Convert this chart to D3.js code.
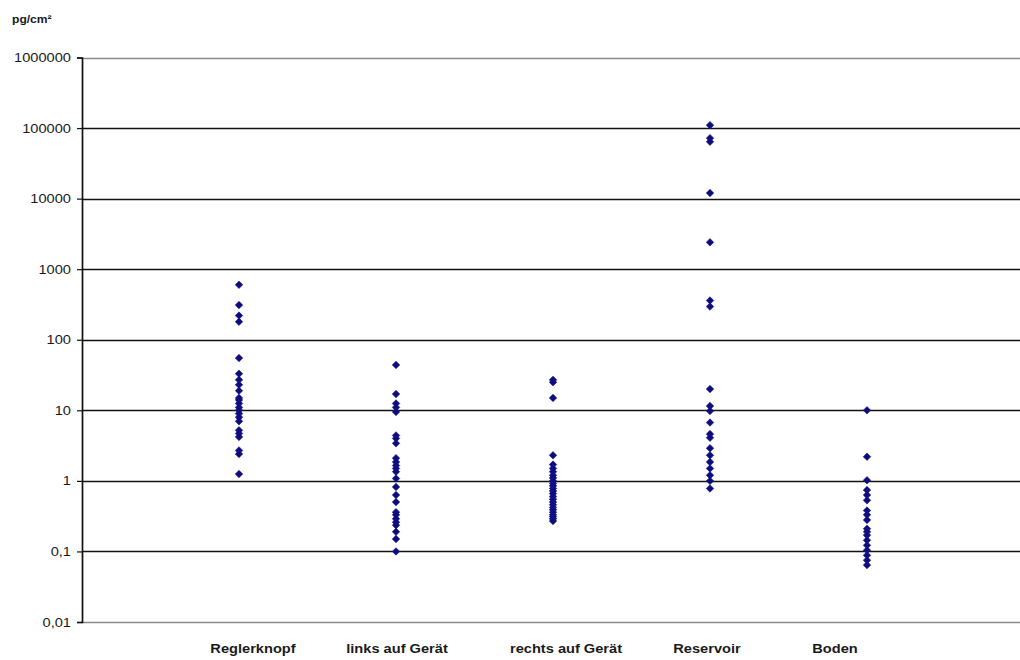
<!DOCTYPE html>
<html>
<head>
<meta charset="utf-8">
<script src="https://cdn.jsdelivr.net/npm/d3@7"></script>
<style>
  html, body { margin: 0; padding: 0; background: #fff; }
  svg { display: block; }
  text { font-family: "Liberation Sans", Arial, sans-serif; fill: #1a1a1a; }
</style>
</head>
<body>
<svg id="chart" width="1020" height="660"></svg>
<script>
// Surface contamination per sampling location (pg/cm²)
const categories = ["Reglerknopf", "links auf Gerät", "rechts auf Gerät", "Reservoir", "Boden"];

const reglerknopf = [600, 310, 220, 180, 55, 33, 27, 23, 19, 15, 14, 12.5, 11, 10, 9, 8, 7, 5.2, 4.7, 4.2, 2.7, 2.4, 1.25];
const linksAufGeraet = [44, 17, 12.5, 11, 9.5, 4.4, 4.0, 3.4, 2.1, 1.85, 1.65, 1.5, 1.35, 1.08, 0.82, 0.63, 0.5, 0.36, 0.33, 0.29, 0.26, 0.235, 0.19, 0.15, 0.1];
const rechtsAufGeraet = [27, 25, 15, 2.3, 1.7, 1.5, 1.35, 1.2, 1.1, 1.0, 0.92, 0.85, 0.78, 0.72, 0.66, 0.6, 0.55, 0.5, 0.46, 0.42, 0.39, 0.36, 0.33, 0.31, 0.29, 0.27];
const reservoir = [110000, 72000, 64000, 12000, 2400, 360, 295, 20, 11.5, 9.8, 6.7, 4.6, 4.1, 2.9, 2.3, 1.85, 1.5, 1.2, 1.0, 0.78];
const boden = [10, 2.2, 1.02, 0.74, 0.63, 0.53, 0.38, 0.33, 0.28, 0.21, 0.19, 0.17, 0.144, 0.122, 0.104, 0.088, 0.075, 0.064];

const seriesValues = [reglerknopf, linksAufGeraet, rechtsAufGeraet, reservoir, boden];

const yTickValues = [0.01, 0.1, 1, 10, 100, 1000, 10000, 100000, 1000000];
const yTickLabels = ["0,01", "0,1", "1", "10", "100", "1000", "10000", "100000", "1000000"];
const unitLabel = "pg/cm²";

// Layout
const plotLeft = 82, plotRight = 1024, plotTop = 57.5, plotBottom = 622;
const labelNudge = [14, 1, 13, -3, -32];   // hand placed category captions
const stretch = 1.17;                      // horizontally widened lettering

const svg = d3.select("#chart");

const x = d3.scaleLinear().domain([0, categories.length + 1]).range([plotLeft, plotRight]);
const y = d3.scaleLog().domain([0.01, 1000000]).range([plotBottom, plotTop]);

// Horizontal gridlines at each decade
svg.append("g")
  .selectAll("line")
  .data(yTickValues.filter(v => v > 0.01))
  .join("line")
  .attr("x1", plotLeft).attr("x2", 1020)
  .attr("y1", d => Math.round(y(d)) + 0.5).attr("y2", d => Math.round(y(d)) + 0.5)
  .attr("stroke", d => d === 1000000 ? "#8a8a8a" : "#111")
  .attr("stroke-width", 1.7);

// Bottom axis line
svg.append("line")
  .attr("x1", plotLeft).attr("x2", 1020)
  .attr("y1", plotBottom + 0.5).attr("y2", plotBottom + 0.5)
  .attr("stroke", "#8a8a8a").attr("stroke-width", 1.7);

// Left axis with ticks
const yAxis = d3.axisLeft(y)
  .tickValues(yTickValues)
  .tickSize(5)
  .tickPadding(6)
  .tickFormat((d, i) => yTickLabels[i]);

const gy = svg.append("g")
  .attr("transform", `translate(${plotLeft},0)`)
  .call(yAxis);
gy.select(".domain").attr("stroke", "#111").attr("stroke-width", 1.7);
gy.selectAll(".tick line").attr("stroke", "#111").attr("stroke-width", 1.2);
gy.selectAll(".tick text")
  .attr("font-size", 12.5)
  .attr("font-family", "Liberation Sans, Arial, sans-serif")
  .attr("fill", "#1a1a1a")
  .each(function () {
    const t = d3.select(this);
    const tx = +t.attr("x");
    t.attr("x", null)
     .attr("transform", `translate(${tx},0) scale(${stretch},1)`);
  });

// Unit label
svg.append("text")
  .attr("transform", `translate(12,23) scale(1.1,1)`)
  .attr("font-size", 11)
  .attr("font-weight", "bold")
  .text(unitLabel);

// Category captions below the plot
svg.append("g")
  .selectAll("text")
  .data(categories)
  .join("text")
  .attr("transform", (d, i) => `translate(${x(i + 1) + labelNudge[i]},653) scale(${stretch},1)`)
  .attr("text-anchor", "middle")
  .attr("font-size", 12.5)
  .attr("font-weight", "bold")
  .text(d => d);

// Data points: diamond markers
const diamond = d3.symbol().type(d3.symbolSquare).size(28)();
const points = seriesValues.flatMap((vals, i) => vals.map(v => ({ cat: i, value: v })));

svg.append("g")
  .selectAll("path")
  .data(points)
  .join("path")
  .attr("d", diamond)
  .attr("transform", d => `translate(${x(d.cat + 1)},${y(d.value)}) rotate(45)`)
  .attr("fill", "#0c0c7a")
  .attr("stroke", "#1a1a90")
  .attr("stroke-width", 0.6);
</script>
</body>
</html>
